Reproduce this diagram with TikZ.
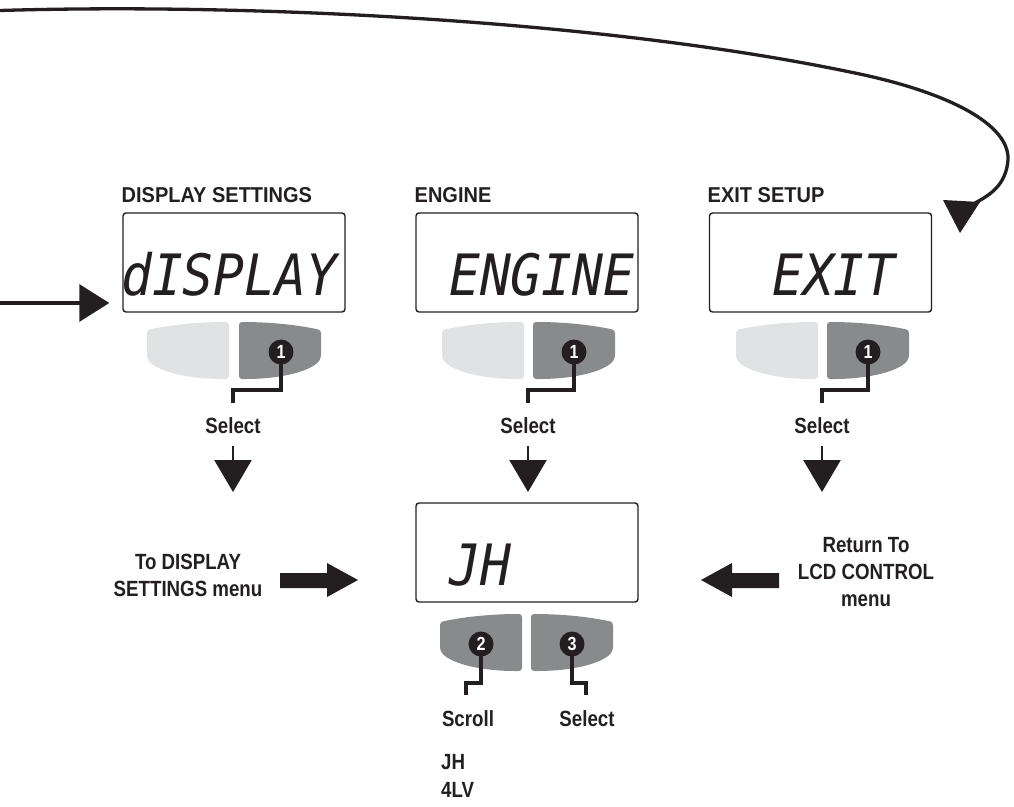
\documentclass[tikz,border=0pt]{standalone}
\usepackage{fontspec}
\usetikzlibrary{arrows.meta}
\newfontfamily\headfont{Liberation Sans}[FakeStretch=0.93]
\newfontfamily\labfont{Liberation Sans}[FakeStretch=0.85]
\newfontfamily\lcdfont{DejaVu Sans Mono}[FakeStretch=0.9]
\definecolor{ink}{HTML}{231F20}
\definecolor{btnlight}{HTML}{E1E2E3}
\definecolor{btndark}{HTML}{898A8C}
\tikzset{
  lcdbox/.style={draw=ink, line width=1.4pt, rounded corners=3pt, minimum width=222pt, minimum height=99pt, inner sep=0pt},
  lcdtxt/.style={anchor=base west, inner sep=0pt, text=ink, font=\lcdfont\itshape\fontsize{57}{57}\selectfont},
  headtxt/.style={anchor=base west, inner sep=0pt, text=ink, font=\headfont\bfseries\fontsize{21.5}{21.5}\selectfont},
  labtxt/.style={inner sep=0pt, text=ink, font=\labfont\bfseries\fontsize{22}{27}\selectfont},
  numc/.style={circle, fill=ink, minimum size=25pt, inner sep=0pt, text=white, font=\labfont\bfseries\fontsize{19}{19}\selectfont},
  ldrline/.style={ink, line width=3.4pt},
  downarrow/.style={draw=ink, line width=2.5pt, -{Triangle[width=37pt,length=32pt]}},
  pics/lbtn/.style={code={\fill[#1, rounded corners=3pt] (0,8) .. controls (28,2) and (55,0) .. (82,0) -- (82,57) -- (72,57) .. controls (35,56) and (8,48) .. (0,36) -- cycle;}},
  pics/rbtn/.style={code={\fill[#1, rounded corners=3pt] (0,0) .. controls (27,0) and (54,2) .. (82,8) -- (82,36) .. controls (74,48) and (47,56) .. (10,57) -- (0,57) -- cycle;}},
}
\begin{document}
\begin{tikzpicture}[x=1pt, y=-1pt]
\useasboundingbox (0,0) rectangle (1014,806);

% top loop connector
\coordinate (loopstart) at (0,10.5);
\coordinate (loopend) at (975,203);
\draw[ink, line width=3.3pt] (loopstart) .. controls (250,3) and (600,20) .. (850,72)
  .. controls (950,92) and (1010,125) .. (1008,160)
  .. controls (1006,185) and (990,195) .. (loopend);
\fill[ink] (943,200) -- (980,202) -- (960,233) -- cycle;

% headings
\node[headtxt] (h1) at (121.5,202) {DISPLAY SETTINGS};
\node[headtxt] (h2) at (414.5,202) {ENGINE};
\node[headtxt] (h3) at (707.5,202) {EXIT SETUP};

% LCD boxes
\node[lcdbox] (b1) at (234,262.5) {};
\node[lcdbox] (b2) at (527,262.5) {};
\node[lcdbox] (b3) at (820.5,262.5) {};
\node[lcdbox] (b4) at (527,552.5) {};

\node[lcdtxt] (t1) at (121,295) {dISPLAY};
\node[lcdtxt] (t2) at (449,295) {ENGINE};
\node[lcdtxt] (t3) at (772,295) {EXIT};
\node[lcdtxt] (t4) at (449,585) {JH};

% left entry arrow
\coordinate (entry) at (0,303);
\draw[ink, line width=3.3pt, -{Triangle[width=37pt,length=30pt]}] (entry) -- ([xshift=-13pt]b1.west |- entry);

% buttons
\pic at (147,322) {lbtn=btnlight};
\pic at (239,322) {rbtn=btndark};
\pic at (442,322) {lbtn=btnlight};
\pic at (533,322) {rbtn=btndark};
\pic at (736,322) {lbtn=btnlight};
\pic at (827,322) {rbtn=btndark};
\pic at (440,614) {lbtn=btndark};
\pic at (531,614) {rbtn=btndark};

% Select labels
\node[labtxt, anchor=base] (s1) at (233,433) {Select};
\node[labtxt, anchor=base] (s2) at (528,433) {Select};
\node[labtxt, anchor=base] (s3) at (822,433) {Select};
\node[labtxt, anchor=base] (s4) at (468,726) {Scroll};
\node[labtxt, anchor=base] (s5) at (587,726) {Select};

% leaders
\coordinate (c1) at (281,352);
\coordinate (c2) at (574,352);
\coordinate (c3) at (868,352);
\coordinate (c4) at (481,644);
\coordinate (c5) at (572,644);
\coordinate (k1) at (233,390);
\coordinate (k2) at (528,390);
\coordinate (k3) at (822,390);
\coordinate (k4) at (466,683);
\coordinate (k5) at (586,683);
\draw[ldrline] (c1) |- (k1) -- ++(0,13);
\draw[ldrline] (c2) |- (k2) -- ++(0,13);
\draw[ldrline] (c3) |- (k3) -- ++(0,13);
\draw[ldrline] (c4) |- (k4) -- ++(0,12);
\draw[ldrline] (c5) |- (k5) -- ++(0,12);
\node[numc] (n1) at (c1) {1};
\node[numc] (n2) at (c2) {1};
\node[numc] (n3) at (c3) {1};
\node[numc] (n4) at (c4) {2};
\node[numc] (n5) at (c5) {3};

% down arrows
\draw[downarrow] (s1.south |- 0,446) -- (s1.south |- 0,492);
\draw[downarrow] (s2.south |- 0,446) -- (s2.south |- 0,492);
\draw[downarrow] (s3.south |- 0,446) -- (s3.south |- 0,492);

% side texts
\node[labtxt, align=center] (todisp) at (188,575.5) {To DISPLAY\\SETTINGS menu};
\node[labtxt, align=center] (ret) at (866,572.5) {Return To\\LCD CONTROL\\menu};

% thick arrows
\fill[ink] (280,573) -- (327,573) -- (327,563) -- (358,580) -- (327,597) -- (327,588) -- (280,588) -- cycle;
\fill[ink] (779,573) -- (732,573) -- (732,563) -- (701,580) -- (732,597) -- (732,588) -- (779,588) -- cycle;

% list
\node[labtxt, anchor=base west] (l1) at (441,769) {JH};
\node[labtxt, anchor=base west] (l2) at (441,797) {4LV};
\end{tikzpicture}
\end{document}
